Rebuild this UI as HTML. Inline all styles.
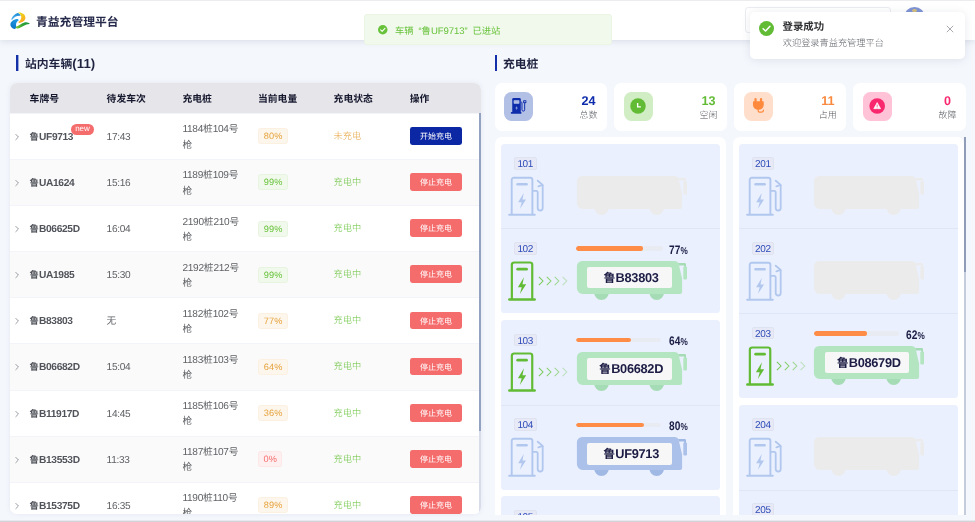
<!DOCTYPE html>
<html lang="zh-CN">
<head>
<meta charset="utf-8">
<title>青益充管理平台</title>
<style>
*{box-sizing:border-box;margin:0;padding:0}
html,body{width:975px;height:522px;overflow:hidden;background:#f4f7fc}
body{text-rendering:geometricPrecision;font-family:"Liberation Sans","Noto Sans CJK SC",sans-serif;color:#606266;font-size:9.7px;-webkit-font-smoothing:antialiased}
#app{filter:blur(0.45px);position:relative;width:975px;height:522px;overflow:hidden;background:#f4f7fc}
.pagebg{position:absolute;left:0;top:0;width:975px;height:522px;background:#f4f7fc}
.topline{position:absolute;left:0;top:0;width:975px;height:1px;background:#ececee}
.botline{position:absolute;left:0;top:520px;width:975px;height:2px;background:linear-gradient(#eef0f5 0,#e3e5ea 40%,#d3d5d9 60%,#cfd1d5 100%)}
.hd{position:absolute;left:0;top:0;width:975px;height:39.5px;background:#fff;box-shadow:0 1px 7px rgba(95,105,135,.2)}
.logo{position:absolute;left:9.6px;top:11.6px}
.title{position:absolute;left:36px;top:14px;font-size:11.8px;line-height:17px;font-weight:700;color:#262a4a;white-space:nowrap}
.sel{position:absolute;left:745px;top:7.4px;width:146px;height:26px;border:1px solid #eaecf1;border-radius:3px;background:#fff}
.avatar{position:absolute;left:903.5px;top:7.4px;width:21px;height:21px;border-radius:50%;background:#7f93d4;overflow:hidden}
.avatar i{position:absolute;left:8px;top:1.8px;width:5px;height:3px;border-radius:50%;background:#d9c07a}
.msg{position:absolute;left:364px;top:13.5px;width:248.4px;height:31.2px;background:#f0f9eb;border:1px solid #eaf6e3;border-radius:3px;color:#67c23a;font-size:9.3px;line-height:32px;white-space:nowrap}
.msg svg{position:absolute;left:13.2px;top:10.6px;width:9.5px;height:9.5px}
.msg>span{position:absolute;left:30px;top:0}
.notif{position:absolute;left:750.2px;top:11.8px;width:215px;height:46.8px;background:#fff;border-radius:5px;box-shadow:0 1px 8px rgba(90,100,130,.14)}
.nico{position:absolute;left:9px;top:9.4px}
.ntitle{position:absolute;left:32.4px;top:8.4px;font-size:10.4px;line-height:15px;font-weight:700;color:#303133;white-space:nowrap}
.nbody{position:absolute;left:32.6px;top:24px;font-size:9.2px;line-height:14px;color:#5e6168;font-weight:300;white-space:nowrap}
.nclose{position:absolute;left:196px;top:13px}
.sec{position:absolute;font-size:11.8px;line-height:16px;font-weight:700;color:#1f2340;white-space:nowrap}
.sec i{position:absolute;left:-9px;top:-1.2px;width:2px;height:16.2px;background:#1330a8;box-shadow:1px 0 0 rgba(19,48,168,.4)}
.sec .n{font-size:13.2px;letter-spacing:0.1px}
.lt .sec{left:25px;top:56px}
.rt .sec{left:503px;top:56px}
.rt .sec i{left:-8px;box-shadow:none}
.tbl{position:absolute;left:10px;top:82.6px;width:471.4px;height:431.5px;border-radius:7px;background:#fff;overflow:hidden;box-shadow:0 0 5px rgba(130,140,170,.13)}
.th{position:absolute;left:0;top:0;width:100%;height:30.4px;background:#e6e5ea;color:#16182e;font-weight:700;font-size:9.8px}
.th .td{line-height:30.4px;top:2px;height:30.4px}
.tb{position:absolute;left:0;top:30.4px;width:100%}
.tr{position:relative;height:46.1px;background:#fff;box-shadow:inset 0 1px 0 #f2f4f9}
.tr.alt{background:#fafafa}
.td{position:absolute;top:0;height:46px;white-space:nowrap}
.c0{left:2.8px;width:10px}
.c1{left:19.6px}.c2{left:96.6px}.c3{left:172.4px}.c4{left:248px}.c5{left:323.6px}.c6{left:399.8px}
.tr .td{line-height:50.6px}
.chev{position:absolute;left:0;top:20px;width:8px;height:8px}
.plate{font-weight:700;color:#50535a;font-size:9.8px;position:relative;top:-1px}
.new{position:absolute;left:41px;top:10.6px;width:23.8px;height:11.2px;text-align:center;border-radius:6px;background:#f56c6c;color:#fff;font-size:8px;line-height:10.4px;font-weight:400}
.tr .c3{color:#606266}
.tag{position:absolute;left:0.4px;top:15.4px;width:29.4px;height:16px;line-height:15px;border:1px solid;border-radius:2.6px;font-size:9.2px;text-align:center;letter-spacing:0.1px}
.t-w{background:#fdf6ec;border-color:#fcf0e0;color:#e6a23c}
.t-s{background:#f0f9eb;border-color:#e7f5e0;color:#67c23a}
.t-e{background:#fef0f0;border-color:#fde7e7;color:#f56c6c;width:23.6px}
.st-w,.st-s{position:relative;top:-2px;font-size:9.2px;font-weight:300}
.st-w{color:#e6a23c}.st-s{color:#67c23a}
.btn{position:absolute;left:0.1px;top:14.2px;width:52px;height:17.8px;line-height:19.6px;border-radius:2.4px;color:#fff;font-size:8px;text-align:center}
.b-p{background:#0b27a3}.b-d{background:#f56c6c}
.sb{position:absolute;left:468.6px;top:30.4px;width:3px;height:318.2px;background:#93a2c0}
.sbt{position:absolute;left:468.6px;top:30.4px;width:3px;height:402px;background:#d7dce8}
.stats{position:absolute;left:495px;top:82.8px;width:471.4px;height:47.8px}
.stat{position:absolute;top:0;width:112.6px;height:47.8px;background:#fff;border-radius:7px}
.stat:nth-child(1){left:0;width:112px}.stat:nth-child(2){left:119px;width:113px}.stat:nth-child(3){left:239px;width:112px}.stat:nth-child(4){left:358px;width:113px}
.stat:nth-child(1) .ic{left:9.3px}.stat:nth-child(2) .ic{left:9.9px}.stat:nth-child(3) .ic{left:9.5px}.stat:nth-child(4) .ic{left:9.9px}
.stat:nth-child(1) .sv{right:9.6px}.stat:nth-child(3) .sv{right:9.2px}
.ic{position:absolute;left:9.3px;top:9.3px;width:29px;height:29px;border-radius:7.5px}
.ic svg{position:absolute;left:5.5px;top:5.3px}
.sv{position:absolute;right:9.6px;top:0;text-align:center}
.sv b{display:block;font-size:12.6px;line-height:14px;margin-top:11.4px;font-weight:700}
.sv span{display:block;font-size:9px;line-height:12px;margin-top:1px;color:#505359;font-weight:300}
.piles{position:absolute;left:495px;top:137.4px;width:471.4px;height:377.4px;overflow:hidden}
.pcol{position:absolute;top:0;height:600px;background:#fff;border-radius:7px;padding:6.2px 6.2px}
.pl{left:0;width:231.4px}
.pr{left:237.6px;width:231px}
.psb{position:absolute;left:468.5px;top:0;width:2.8px;height:377.4px;background:#c5cddd}
.psb i{position:absolute;left:0;top:0;width:100%;height:134.2px;background:#8f9db9}
.grp{width:218.8px;background:#eaf0fe;border-radius:3.6px;margin-bottom:6.5px;overflow:hidden}
.pile{position:relative;height:84.9px;border-top:1px solid #dfe6f5}
.grp .pile:first-child{border-top-color:transparent}
.no{position:absolute;left:12.9px;top:12.7px;width:22.6px;height:12.4px;line-height:13.8px;border:1px solid #dfe3ef;background:#e7eaf6;border-radius:2px;color:#2d4ab8;font-size:10px;letter-spacing:-0.36px;text-indent:-0.3px;text-align:center}
.chg{position:absolute;left:6.8px;top:31.5px}
.arr{position:absolute;left:37px;top:46.6px}
.bus{position:absolute;left:74.6px;top:31.5px;width:112px;height:40px}
.bus svg{position:absolute;left:0;top:0}
.plt{position:absolute;left:11.2px;top:6.1px;width:84.7px;height:21.2px;line-height:22px;background:#f7f7f8;border-radius:2px;text-align:center;text-indent:3.6px;font-weight:700;font-size:12px;color:#1c1c44;white-space:nowrap}
.prog i{display:block;height:100%;background:#ff8d47;border-radius:2.1px}

.q{display:inline-block;width:.86em}
.ql{text-align:right}.qr{text-align:left}
.tr .n{font-size:10.1px;letter-spacing:-0.28px}
.tr b .n{font-size:10.2px;letter-spacing:-0.34px}
.tr b .z{font-size:9.4px}

.tr .c3 .l1,.tr .c3 .l2{position:absolute;left:0;white-space:nowrap;line-height:15px}
.tr .c3 .l1{top:9.4px}.tr .c3 .l2{top:24.6px}
.msg .n{font-size:9.6px;letter-spacing:-0.1px}
.plt .n{font-size:12.8px;letter-spacing:-0.3px}
.prog{position:absolute;left:74.9px;top:17px;width:87px;height:4.4px;border-radius:2.2px;background:#e9ebf3;overflow:hidden}
.pct{position:absolute;right:32.4px;top:12.4px;white-space:nowrap;color:#1c1c44;line-height:16px;font-weight:700;transform:scaleX(.82);transform-origin:right center}
.pct b{font-size:12.4px;font-weight:700;letter-spacing:-0.1px}
.pct small{font-size:10px;font-weight:700;margin-left:0.3px}

</style>
</head>
<body>
<div id="app">
<div class="pagebg"></div>
<header class="hd">
<svg class="logo" viewBox="0 0 41 35" width="20.5" height="17.5">
<defs>
<linearGradient id="lga" x1="0" y1="1" x2="1" y2="0"><stop offset="0" stop-color="#5bbcf0"/><stop offset="1" stop-color="#1180d0"/></linearGradient>
<linearGradient id="lgb" x1="0.6" y1="0" x2="0.3" y2="1"><stop offset="0" stop-color="#1f9be3"/><stop offset="1" stop-color="#0a72c4"/></linearGradient>
<linearGradient id="lgy" x1="0.2" y1="0" x2="0.6" y2="1"><stop offset="0" stop-color="#e3dc1c"/><stop offset="0.45" stop-color="#f6c31c"/><stop offset="1" stop-color="#fba424"/></linearGradient>
<linearGradient id="lgg" x1="0" y1="0" x2="1" y2="0"><stop offset="0" stop-color="#86c92c"/><stop offset="0.5" stop-color="#2fa337"/><stop offset="1" stop-color="#17913d"/></linearGradient>
</defs>
<path d="M2.4 14.6 C4.8 8 10 2.8 15.8 1.8 C18.6 2.8 20.8 5.2 21.4 7.8 C14.5 6.6 8.5 9.8 4 16 Z" fill="url(#lga)"/>
<path d="M15.5 1.2 C24 0 31 5 30.8 12 C30.5 17.5 25 21 18.2 21.8 C17 21 17 20 17.2 19.4 C21 17 23.5 13 22.4 8.5 C21.5 5 19 2.5 15.5 1.2 Z" fill="url(#lgy)"/>
<path d="M13.6 13.8 C15.5 13.8 17 14.8 17.6 16.4 C13.6 19 11.8 22.5 12 26 C12.1 28 12.6 29.5 13.2 30.6 C12.5 32.2 11 33.5 9.4 34 C4 33 0.6 29 0.8 24.4 C1.1 19.5 6.5 14.8 13.6 13.8 Z" fill="url(#lgb)"/>
<path d="M11.2 29.8 C16 27.5 19 25.5 22 23.8 C26 21.5 29.5 20.2 32.5 20.3 C35.5 20.4 38 21.8 39.8 23.8 C37 23.6 35 24.2 33 25.2 C29 27 26 28.6 23 29.8 C20 31.5 18 32.5 15.6 33 C13.5 33 12 31.8 11.2 29.8 Z" fill="url(#lgg)"/>
</svg>
<div class="title">青益充管理平台</div>
<div class="sel"></div>
<div class="avatar"><i></i></div>
</header>

<div class="msg"><svg viewBox="0 0 16 16" width="10" height="10"><circle cx="8" cy="8" r="8" fill="#67c23a"/><path d="M4.4 8.2 L7 10.7 L11.7 5.7" fill="none" stroke="#fff" stroke-width="1.7" stroke-linecap="round" stroke-linejoin="round"/></svg><span><span class="z">车辆</span><span class="q ql">“</span><span class="z">鲁</span><span class="n">UF9713</span><span class="q qr">”</span><span class="z">已进站</span></span></div>

<div class="notif"><svg class="nico" viewBox="0 0 16 16" width="15" height="15"><circle cx="8" cy="8" r="8" fill="#62bb35"/><path d="M4.4 8.2 L7 10.7 L11.7 5.7" fill="none" stroke="#fff" stroke-width="1.6" stroke-linecap="round" stroke-linejoin="round"/></svg>
<div class="ntitle">登录成功</div>
<div class="nbody">欢迎登录青益充管理平台</div>
<svg class="nclose" viewBox="0 0 10 10" width="8" height="8"><path d="M1 1 L9 9 M9 1 L1 9" stroke="#909399" stroke-width="1" fill="none"/></svg>
</div>

<section class="lt">
<h2 class="sec"><i></i>站内车辆<span class="n">(11)</span></h2>
<div class="tbl">
<div class="th">
<div class="td c1">车牌号</div><div class="td c2">待发车次</div><div class="td c3">充电桩</div><div class="td c4">当前电量</div><div class="td c5">充电状态</div><div class="td c6">操作</div>
</div>
<div class="tb">
<div class="tr">
<div class="td c0"><svg class="chev" viewBox="0 0 10 10"><path d="M3.2 1.4 L6.8 5 L3.2 8.6" fill="none" stroke="#8a8d94" stroke-width="1.1"/></svg></div>
<div class="td c1"><b class="plate"><span class="z">鲁</span><span class="n">UF9713</span></b><sup class="new">new</sup></div>
<div class="td c2"><span class="n">17:43</span></div>
<div class="td c3"><div class="l1"><span class="n">1184</span><span class="z">桩</span><span class="n">104</span><span class="z">号</span></div><div class="l2"><span class="z">枪</span></div></div>
<div class="td c4"><span class="tag t-w">80%</span></div>
<div class="td c5"><span class="st-w">未充电</span></div>
<div class="td c6"><span class="btn b-p">开始充电</span></div>
</div><div class="tr alt">
<div class="td c0"><svg class="chev" viewBox="0 0 10 10"><path d="M3.2 1.4 L6.8 5 L3.2 8.6" fill="none" stroke="#8a8d94" stroke-width="1.1"/></svg></div>
<div class="td c1"><b class="plate"><span class="z">鲁</span><span class="n">UA1624</span></b></div>
<div class="td c2"><span class="n">15:16</span></div>
<div class="td c3"><div class="l1"><span class="n">1189</span><span class="z">桩</span><span class="n">109</span><span class="z">号</span></div><div class="l2"><span class="z">枪</span></div></div>
<div class="td c4"><span class="tag t-s">99%</span></div>
<div class="td c5"><span class="st-s">充电中</span></div>
<div class="td c6"><span class="btn b-d">停止充电</span></div>
</div><div class="tr">
<div class="td c0"><svg class="chev" viewBox="0 0 10 10"><path d="M3.2 1.4 L6.8 5 L3.2 8.6" fill="none" stroke="#8a8d94" stroke-width="1.1"/></svg></div>
<div class="td c1"><b class="plate"><span class="z">鲁</span><span class="n">B06625D</span></b></div>
<div class="td c2"><span class="n">16:04</span></div>
<div class="td c3"><div class="l1"><span class="n">2190</span><span class="z">桩</span><span class="n">210</span><span class="z">号</span></div><div class="l2"><span class="z">枪</span></div></div>
<div class="td c4"><span class="tag t-s">99%</span></div>
<div class="td c5"><span class="st-s">充电中</span></div>
<div class="td c6"><span class="btn b-d">停止充电</span></div>
</div><div class="tr alt">
<div class="td c0"><svg class="chev" viewBox="0 0 10 10"><path d="M3.2 1.4 L6.8 5 L3.2 8.6" fill="none" stroke="#8a8d94" stroke-width="1.1"/></svg></div>
<div class="td c1"><b class="plate"><span class="z">鲁</span><span class="n">UA1985</span></b></div>
<div class="td c2"><span class="n">15:30</span></div>
<div class="td c3"><div class="l1"><span class="n">2192</span><span class="z">桩</span><span class="n">212</span><span class="z">号</span></div><div class="l2"><span class="z">枪</span></div></div>
<div class="td c4"><span class="tag t-s">99%</span></div>
<div class="td c5"><span class="st-s">充电中</span></div>
<div class="td c6"><span class="btn b-d">停止充电</span></div>
</div><div class="tr">
<div class="td c0"><svg class="chev" viewBox="0 0 10 10"><path d="M3.2 1.4 L6.8 5 L3.2 8.6" fill="none" stroke="#8a8d94" stroke-width="1.1"/></svg></div>
<div class="td c1"><b class="plate"><span class="z">鲁</span><span class="n">B83803</span></b></div>
<div class="td c2"><span class="z">无</span></div>
<div class="td c3"><div class="l1"><span class="n">1182</span><span class="z">桩</span><span class="n">102</span><span class="z">号</span></div><div class="l2"><span class="z">枪</span></div></div>
<div class="td c4"><span class="tag t-w">77%</span></div>
<div class="td c5"><span class="st-s">充电中</span></div>
<div class="td c6"><span class="btn b-d">停止充电</span></div>
</div><div class="tr alt">
<div class="td c0"><svg class="chev" viewBox="0 0 10 10"><path d="M3.2 1.4 L6.8 5 L3.2 8.6" fill="none" stroke="#8a8d94" stroke-width="1.1"/></svg></div>
<div class="td c1"><b class="plate"><span class="z">鲁</span><span class="n">B06682D</span></b></div>
<div class="td c2"><span class="n">15:04</span></div>
<div class="td c3"><div class="l1"><span class="n">1183</span><span class="z">桩</span><span class="n">103</span><span class="z">号</span></div><div class="l2"><span class="z">枪</span></div></div>
<div class="td c4"><span class="tag t-w">64%</span></div>
<div class="td c5"><span class="st-s">充电中</span></div>
<div class="td c6"><span class="btn b-d">停止充电</span></div>
</div><div class="tr">
<div class="td c0"><svg class="chev" viewBox="0 0 10 10"><path d="M3.2 1.4 L6.8 5 L3.2 8.6" fill="none" stroke="#8a8d94" stroke-width="1.1"/></svg></div>
<div class="td c1"><b class="plate"><span class="z">鲁</span><span class="n">B11917D</span></b></div>
<div class="td c2"><span class="n">14:45</span></div>
<div class="td c3"><div class="l1"><span class="n">1185</span><span class="z">桩</span><span class="n">106</span><span class="z">号</span></div><div class="l2"><span class="z">枪</span></div></div>
<div class="td c4"><span class="tag t-w">36%</span></div>
<div class="td c5"><span class="st-s">充电中</span></div>
<div class="td c6"><span class="btn b-d">停止充电</span></div>
</div><div class="tr alt">
<div class="td c0"><svg class="chev" viewBox="0 0 10 10"><path d="M3.2 1.4 L6.8 5 L3.2 8.6" fill="none" stroke="#8a8d94" stroke-width="1.1"/></svg></div>
<div class="td c1"><b class="plate"><span class="z">鲁</span><span class="n">B13553D</span></b></div>
<div class="td c2"><span class="n">11:33</span></div>
<div class="td c3"><div class="l1"><span class="n">1187</span><span class="z">桩</span><span class="n">107</span><span class="z">号</span></div><div class="l2"><span class="z">枪</span></div></div>
<div class="td c4"><span class="tag t-e">0%</span></div>
<div class="td c5"><span class="st-s">充电中</span></div>
<div class="td c6"><span class="btn b-d">停止充电</span></div>
</div><div class="tr">
<div class="td c0"><svg class="chev" viewBox="0 0 10 10"><path d="M3.2 1.4 L6.8 5 L3.2 8.6" fill="none" stroke="#8a8d94" stroke-width="1.1"/></svg></div>
<div class="td c1"><b class="plate"><span class="z">鲁</span><span class="n">B15375D</span></b></div>
<div class="td c2"><span class="n">16:35</span></div>
<div class="td c3"><div class="l1"><span class="n">1190</span><span class="z">桩</span><span class="n">110</span><span class="z">号</span></div><div class="l2"><span class="z">枪</span></div></div>
<div class="td c4"><span class="tag t-w">89%</span></div>
<div class="td c5"><span class="st-s">充电中</span></div>
<div class="td c6"><span class="btn b-d">停止充电</span></div>
</div><div class="tr alt">
<div class="td c0"><svg class="chev" viewBox="0 0 10 10"><path d="M3.2 1.4 L6.8 5 L3.2 8.6" fill="none" stroke="#8a8d94" stroke-width="1.1"/></svg></div>
<div class="td c1"><b class="plate"><span class="z">鲁</span><span class="n">B08679D</span></b></div>
<div class="td c2"><span class="n">15:50</span></div>
<div class="td c3"><div class="l1"><span class="n">2191</span><span class="z">桩</span><span class="n">203</span><span class="z">号</span></div><div class="l2"><span class="z">枪</span></div></div>
<div class="td c4"><span class="tag t-w">62%</span></div>
<div class="td c5"><span class="st-s">充电中</span></div>
<div class="td c6"><span class="btn b-d">停止充电</span></div>
</div>
</div>
<div class="sbt"></div><div class="sb"></div>
</div>
</section>

<section class="rt">
<h2 class="sec"><i></i>充电桩</h2>
<div class="stats">
<div class="stat"><div class="ic" style="background:#b3c0e6">
<svg viewBox="0 0 20 20" width="18" height="18"><g fill="#0d2bab"><path d="M2.5 2.6 a1.5 1.5 0 0 1 1.5 -1.5 H10.5 a1.5 1.5 0 0 1 1.5 1.5 V17 H2.5 Z"/><rect x="0.9" y="16.7" width="11.9" height="1.8" rx="0.7"/><rect x="14.6" y="3.6" width="3.6" height="3.3" rx="0.9"/></g><rect x="4.1" y="3.5" width="6.3" height="4" rx="0.5" fill="#b7c3e8"/><path d="M4.1 5.4 H10.4" stroke="#8f9fd8" stroke-width="0.5"/><path d="M7.9 10 L5.8 12.6 H7.3 L6.6 14.7 L8.8 11.9 H7.3 Z" fill="#b3c0e6"/><path d="M12 5.6 H12.4 a0.9 0.9 0 0 1 0.9 0.9 V14.2 a1.5 1.5 0 0 0 3 0 V6.8" fill="none" stroke="#0d2bab" stroke-width="1.1"/><rect x="15.7" y="4.6" width="1.5" height="1.2" fill="#b3c0e6"/></svg>
</div><div class="sv"><b style="color:#0d2bab">24</b><span>总数</span></div></div>
<div class="stat"><div class="ic" style="background:#d1edc4">
<svg viewBox="0 0 20 20" width="18" height="18"><circle cx="10" cy="10" r="8.6" fill="#62bb35"/><path d="M9.6 6.6 V11 H13.2" fill="none" stroke="#fff" stroke-width="1.5"/></svg>
</div><div class="sv"><b style="color:#62bb35">13</b><span>空闲</span></div></div>
<div class="stat"><div class="ic" style="background:#ffdfcc">
<svg viewBox="0 0 20 20" width="18" height="18"><g fill="#ff8a3d"><rect x="6" y="1" width="2.5" height="6" rx="1.2"/><rect x="12.1" y="1" width="2.5" height="6" rx="1.2"/><path d="M4.4 5.4 a0.8 0.8 0 0 1 0.8 -0.8 H15.6 a0.8 0.8 0 0 1 0.8 0.8 V9 a6 5.2 0 0 1 -12 0 Z"/></g><path d="M10.2 13.6 V15.2 a1.5 1.5 0 0 0 1.5 1.5 H14.4 a1.6 1.6 0 0 0 1.6 -1.6 V14.6" fill="none" stroke="#ff8a3d" stroke-width="1.4" stroke-linecap="round"/></svg>
</div><div class="sv"><b style="color:#fa8a3f">11</b><span>占用</span></div></div>
<div class="stat"><div class="ic" style="background:#ffc2d6">
<svg viewBox="0 0 20 20" width="18" height="18"><circle cx="10.2" cy="10" r="8.7" fill="#f9286e"/><path d="M10.2 6.2 L14 13 H6.4 Z" fill="#fff" stroke="#fff" stroke-width="0.7" stroke-linejoin="round"/><path d="M10.2 8.4 V11 M10.2 11.8 V12.5" stroke="#f9286e" stroke-width="0.8"/></svg>
</div><div class="sv"><b style="color:#f9286e">0</b><span>故障</span></div></div>
</div>
<div class="piles">
<div class="pcol pl"><div class="grp"><div class="pile"><span class="no">101</span><svg class="chg" viewBox="0 0 36 40" width="36" height="40">
<g fill="none" stroke="#b1c7ee" stroke-width="1.9" stroke-linejoin="round">
<path d="M3.7 38.4 V3.9 a2.1 2.1 0 0 1 2.1 -2.1 H22.3 a2.1 2.1 0 0 1 2.1 2.1 V38.4"/>
<path d="M1.2 38.8 H26.8" stroke-width="2.1" stroke-linecap="round"/>
<path d="M9.5 8.3 H18.6" stroke-width="2.4" stroke-linecap="round"/>
<path d="M24.6 14.9 H28.3 a1.4 1.4 0 0 1 1.4 1.4 V32 a2.5 2.5 0 0 0 5 0 V8.9" stroke-width="1.8"/>
<path d="M29.7 4.7 L34.7 8.9 L30.4 10.4" stroke-width="1.8" stroke-linecap="round"/>
</g>
<path d="M15.7 17 L10.2 26.3 H13.7 L12 32.8 L18 23.5 H14.5 Z" fill="#b1c7ee"/>
</svg><div class="bus"><svg viewBox="0 0 112 40" width="112" height="40">
<path d="M18.1 31.5 a7.4 7.4 0 0 0 14.8 0 Z M73.3 31.5 a7.4 7.4 0 0 0 14.8 0 Z" fill="#ebebeb"/>
<path d="M102 1.9 H108.7 a1.3 1.3 0 0 1 1.3 1.3 V6 H108.2 V4.4 H102.8 Z" fill="#ebebeb"/>
<path d="M0.9 5.3 a5.2 5.2 0 0 1 5.2 -5.2 H98.4 a4.6 4.6 0 0 1 4.4 3.3 L106.1 17.5 V31 a2 2 0 0 1 -2 2 H6.6 a5.7 5.7 0 0 1 -5.7 -5.7 Z" fill="#ebebeb"/>
<rect x="107.3" y="5.4" width="3.7" height="13" rx="1.2" fill="#ebebeb"/>
</svg></div></div><div class="pile"><span class="no">102</span><svg class="chg" viewBox="0 0 36 40" width="36" height="40">
<g fill="none" stroke="#62bb35" stroke-width="2.2" stroke-linejoin="round">
<path d="M3.85 38.2 V3.7 a2.2 2.2 0 0 1 2.2 -2.2 H22.05 a2.2 2.2 0 0 1 2.2 2.2 V38.2"/>
<path d="M1.3 38.5 H26.7" stroke-width="2.4" stroke-linecap="round"/>
<path d="M9.7 8.2 H18.5" stroke-width="2.8" stroke-linecap="round"/>
</g>
<path d="M15.9 16.3 L9.9 26.2 H13.7 L11.9 33.1 L18.2 23.3 H14.5 Z" fill="#62bb35"/>
</svg><svg class="arr" viewBox="0 0 32 10" width="32" height="10">
<g fill="none" stroke="#6cc644" stroke-width="1.05" stroke-linejoin="miter">
<path d="M0.9 0.9 L5 5 L0.9 9.1" opacity="0.9"/>
<path d="M8.8 0.9 L12.9 5 L8.8 9.1" opacity="0.78"/>
<path d="M16.7 0.9 L20.8 5 L16.7 9.1" opacity="0.6"/>
<path d="M24.6 0.9 L28.7 5 L24.6 9.1" opacity="0.36"/>
</g></svg><div class="prog" style="width:87.0px"><i style="width:77%"></i></div><div class="pct"><b>77</b><small>%</small></div><div class="bus"><svg viewBox="0 0 112 40" width="112" height="40">
<path d="M18.1 31.5 a7.4 7.4 0 0 0 14.8 0 Z M73.3 31.5 a7.4 7.4 0 0 0 14.8 0 Z" fill="#a6dcb5"/>
<path d="M102 1.9 H108.7 a1.3 1.3 0 0 1 1.3 1.3 V6 H108.2 V4.4 H102.8 Z" fill="#a6dcb5"/>
<path d="M0.9 5.3 a5.2 5.2 0 0 1 5.2 -5.2 H98.4 a4.6 4.6 0 0 1 4.4 3.3 L106.1 17.5 V31 a2 2 0 0 1 -2 2 H6.6 a5.7 5.7 0 0 1 -5.7 -5.7 Z" fill="#b3e5c1"/>
<rect x="107.3" y="5.4" width="3.7" height="13" rx="1.2" fill="#b3e5c1"/>
</svg><div class="plt"><span class="z">鲁</span><span class="n">B83803</span></div></div></div></div><div class="grp"><div class="pile"><span class="no">103</span><svg class="chg" viewBox="0 0 36 40" width="36" height="40">
<g fill="none" stroke="#62bb35" stroke-width="2.2" stroke-linejoin="round">
<path d="M3.85 38.2 V3.7 a2.2 2.2 0 0 1 2.2 -2.2 H22.05 a2.2 2.2 0 0 1 2.2 2.2 V38.2"/>
<path d="M1.3 38.5 H26.7" stroke-width="2.4" stroke-linecap="round"/>
<path d="M9.7 8.2 H18.5" stroke-width="2.8" stroke-linecap="round"/>
</g>
<path d="M15.9 16.3 L9.9 26.2 H13.7 L11.9 33.1 L18.2 23.3 H14.5 Z" fill="#62bb35"/>
</svg><svg class="arr" viewBox="0 0 32 10" width="32" height="10">
<g fill="none" stroke="#6cc644" stroke-width="1.05" stroke-linejoin="miter">
<path d="M0.9 0.9 L5 5 L0.9 9.1" opacity="0.9"/>
<path d="M8.8 0.9 L12.9 5 L8.8 9.1" opacity="0.78"/>
<path d="M16.7 0.9 L20.8 5 L16.7 9.1" opacity="0.6"/>
<path d="M24.6 0.9 L28.7 5 L24.6 9.1" opacity="0.36"/>
</g></svg><div class="prog" style="width:85.3px"><i style="width:64%"></i></div><div class="pct"><b>64</b><small>%</small></div><div class="bus"><svg viewBox="0 0 112 40" width="112" height="40">
<path d="M18.1 31.5 a7.4 7.4 0 0 0 14.8 0 Z M73.3 31.5 a7.4 7.4 0 0 0 14.8 0 Z" fill="#a6dcb5"/>
<path d="M102 1.9 H108.7 a1.3 1.3 0 0 1 1.3 1.3 V6 H108.2 V4.4 H102.8 Z" fill="#a6dcb5"/>
<path d="M0.9 5.3 a5.2 5.2 0 0 1 5.2 -5.2 H98.4 a4.6 4.6 0 0 1 4.4 3.3 L106.1 17.5 V31 a2 2 0 0 1 -2 2 H6.6 a5.7 5.7 0 0 1 -5.7 -5.7 Z" fill="#b3e5c1"/>
<rect x="107.3" y="5.4" width="3.7" height="13" rx="1.2" fill="#b3e5c1"/>
</svg><div class="plt"><span class="z">鲁</span><span class="n">B06682D</span></div></div></div><div class="pile"><span class="no">104</span><svg class="chg" viewBox="0 0 36 40" width="36" height="40">
<g fill="none" stroke="#b1c7ee" stroke-width="1.9" stroke-linejoin="round">
<path d="M3.7 38.4 V3.9 a2.1 2.1 0 0 1 2.1 -2.1 H22.3 a2.1 2.1 0 0 1 2.1 2.1 V38.4"/>
<path d="M1.2 38.8 H26.8" stroke-width="2.1" stroke-linecap="round"/>
<path d="M9.5 8.3 H18.6" stroke-width="2.4" stroke-linecap="round"/>
<path d="M24.6 14.9 H28.3 a1.4 1.4 0 0 1 1.4 1.4 V32 a2.5 2.5 0 0 0 5 0 V8.9" stroke-width="1.8"/>
<path d="M29.7 4.7 L34.7 8.9 L30.4 10.4" stroke-width="1.8" stroke-linecap="round"/>
</g>
<path d="M15.7 17 L10.2 26.3 H13.7 L12 32.8 L18 23.5 H14.5 Z" fill="#b1c7ee"/>
</svg><div class="prog" style="width:84.8px"><i style="width:80%"></i></div><div class="pct"><b>80</b><small>%</small></div><div class="bus"><svg viewBox="0 0 112 40" width="112" height="40">
<path d="M18.1 31.5 a7.4 7.4 0 0 0 14.8 0 Z M73.3 31.5 a7.4 7.4 0 0 0 14.8 0 Z" fill="#a0b8e4"/>
<path d="M102 1.9 H108.7 a1.3 1.3 0 0 1 1.3 1.3 V6 H108.2 V4.4 H102.8 Z" fill="#a0b8e4"/>
<path d="M0.9 5.3 a5.2 5.2 0 0 1 5.2 -5.2 H98.4 a4.6 4.6 0 0 1 4.4 3.3 L106.1 17.5 V31 a2 2 0 0 1 -2 2 H6.6 a5.7 5.7 0 0 1 -5.7 -5.7 Z" fill="#abc1ea"/>
<rect x="107.3" y="5.4" width="3.7" height="13" rx="1.2" fill="#abc1ea"/>
</svg><div class="plt"><span class="z">鲁</span><span class="n">UF9713</span></div></div></div></div><div class="grp"><div class="pile"><span class="no">105</span><svg class="chg" viewBox="0 0 36 40" width="36" height="40">
<g fill="none" stroke="#b1c7ee" stroke-width="1.9" stroke-linejoin="round">
<path d="M3.7 38.4 V3.9 a2.1 2.1 0 0 1 2.1 -2.1 H22.3 a2.1 2.1 0 0 1 2.1 2.1 V38.4"/>
<path d="M1.2 38.8 H26.8" stroke-width="2.1" stroke-linecap="round"/>
<path d="M9.5 8.3 H18.6" stroke-width="2.4" stroke-linecap="round"/>
<path d="M24.6 14.9 H28.3 a1.4 1.4 0 0 1 1.4 1.4 V32 a2.5 2.5 0 0 0 5 0 V8.9" stroke-width="1.8"/>
<path d="M29.7 4.7 L34.7 8.9 L30.4 10.4" stroke-width="1.8" stroke-linecap="round"/>
</g>
<path d="M15.7 17 L10.2 26.3 H13.7 L12 32.8 L18 23.5 H14.5 Z" fill="#b1c7ee"/>
</svg><div class="bus"><svg viewBox="0 0 112 40" width="112" height="40">
<path d="M18.1 31.5 a7.4 7.4 0 0 0 14.8 0 Z M73.3 31.5 a7.4 7.4 0 0 0 14.8 0 Z" fill="#ebebeb"/>
<path d="M102 1.9 H108.7 a1.3 1.3 0 0 1 1.3 1.3 V6 H108.2 V4.4 H102.8 Z" fill="#ebebeb"/>
<path d="M0.9 5.3 a5.2 5.2 0 0 1 5.2 -5.2 H98.4 a4.6 4.6 0 0 1 4.4 3.3 L106.1 17.5 V31 a2 2 0 0 1 -2 2 H6.6 a5.7 5.7 0 0 1 -5.7 -5.7 Z" fill="#ebebeb"/>
<rect x="107.3" y="5.4" width="3.7" height="13" rx="1.2" fill="#ebebeb"/>
</svg></div></div><div class="pile"><span class="no">106</span><svg class="chg" viewBox="0 0 36 40" width="36" height="40">
<g fill="none" stroke="#62bb35" stroke-width="2.2" stroke-linejoin="round">
<path d="M3.85 38.2 V3.7 a2.2 2.2 0 0 1 2.2 -2.2 H22.05 a2.2 2.2 0 0 1 2.2 2.2 V38.2"/>
<path d="M1.3 38.5 H26.7" stroke-width="2.4" stroke-linecap="round"/>
<path d="M9.7 8.2 H18.5" stroke-width="2.8" stroke-linecap="round"/>
</g>
<path d="M15.9 16.3 L9.9 26.2 H13.7 L11.9 33.1 L18.2 23.3 H14.5 Z" fill="#62bb35"/>
</svg><svg class="arr" viewBox="0 0 32 10" width="32" height="10">
<g fill="none" stroke="#6cc644" stroke-width="1.05" stroke-linejoin="miter">
<path d="M0.9 0.9 L5 5 L0.9 9.1" opacity="0.9"/>
<path d="M8.8 0.9 L12.9 5 L8.8 9.1" opacity="0.78"/>
<path d="M16.7 0.9 L20.8 5 L16.7 9.1" opacity="0.6"/>
<path d="M24.6 0.9 L28.7 5 L24.6 9.1" opacity="0.36"/>
</g></svg><div class="prog" style="width:85.3px"><i style="width:36%"></i></div><div class="pct"><b>36</b><small>%</small></div><div class="bus"><svg viewBox="0 0 112 40" width="112" height="40">
<path d="M18.1 31.5 a7.4 7.4 0 0 0 14.8 0 Z M73.3 31.5 a7.4 7.4 0 0 0 14.8 0 Z" fill="#a6dcb5"/>
<path d="M102 1.9 H108.7 a1.3 1.3 0 0 1 1.3 1.3 V6 H108.2 V4.4 H102.8 Z" fill="#a6dcb5"/>
<path d="M0.9 5.3 a5.2 5.2 0 0 1 5.2 -5.2 H98.4 a4.6 4.6 0 0 1 4.4 3.3 L106.1 17.5 V31 a2 2 0 0 1 -2 2 H6.6 a5.7 5.7 0 0 1 -5.7 -5.7 Z" fill="#b3e5c1"/>
<rect x="107.3" y="5.4" width="3.7" height="13" rx="1.2" fill="#b3e5c1"/>
</svg><div class="plt"><span class="z">鲁</span><span class="n">B11917D</span></div></div></div></div></div>
<div class="pcol pr"><div class="grp"><div class="pile"><span class="no">201</span><svg class="chg" viewBox="0 0 36 40" width="36" height="40">
<g fill="none" stroke="#b1c7ee" stroke-width="1.9" stroke-linejoin="round">
<path d="M3.7 38.4 V3.9 a2.1 2.1 0 0 1 2.1 -2.1 H22.3 a2.1 2.1 0 0 1 2.1 2.1 V38.4"/>
<path d="M1.2 38.8 H26.8" stroke-width="2.1" stroke-linecap="round"/>
<path d="M9.5 8.3 H18.6" stroke-width="2.4" stroke-linecap="round"/>
<path d="M24.6 14.9 H28.3 a1.4 1.4 0 0 1 1.4 1.4 V32 a2.5 2.5 0 0 0 5 0 V8.9" stroke-width="1.8"/>
<path d="M29.7 4.7 L34.7 8.9 L30.4 10.4" stroke-width="1.8" stroke-linecap="round"/>
</g>
<path d="M15.7 17 L10.2 26.3 H13.7 L12 32.8 L18 23.5 H14.5 Z" fill="#b1c7ee"/>
</svg><div class="bus"><svg viewBox="0 0 112 40" width="112" height="40">
<path d="M18.1 31.5 a7.4 7.4 0 0 0 14.8 0 Z M73.3 31.5 a7.4 7.4 0 0 0 14.8 0 Z" fill="#ebebeb"/>
<path d="M102 1.9 H108.7 a1.3 1.3 0 0 1 1.3 1.3 V6 H108.2 V4.4 H102.8 Z" fill="#ebebeb"/>
<path d="M0.9 5.3 a5.2 5.2 0 0 1 5.2 -5.2 H98.4 a4.6 4.6 0 0 1 4.4 3.3 L106.1 17.5 V31 a2 2 0 0 1 -2 2 H6.6 a5.7 5.7 0 0 1 -5.7 -5.7 Z" fill="#ebebeb"/>
<rect x="107.3" y="5.4" width="3.7" height="13" rx="1.2" fill="#ebebeb"/>
</svg></div></div><div class="pile"><span class="no">202</span><svg class="chg" viewBox="0 0 36 40" width="36" height="40">
<g fill="none" stroke="#b1c7ee" stroke-width="1.9" stroke-linejoin="round">
<path d="M3.7 38.4 V3.9 a2.1 2.1 0 0 1 2.1 -2.1 H22.3 a2.1 2.1 0 0 1 2.1 2.1 V38.4"/>
<path d="M1.2 38.8 H26.8" stroke-width="2.1" stroke-linecap="round"/>
<path d="M9.5 8.3 H18.6" stroke-width="2.4" stroke-linecap="round"/>
<path d="M24.6 14.9 H28.3 a1.4 1.4 0 0 1 1.4 1.4 V32 a2.5 2.5 0 0 0 5 0 V8.9" stroke-width="1.8"/>
<path d="M29.7 4.7 L34.7 8.9 L30.4 10.4" stroke-width="1.8" stroke-linecap="round"/>
</g>
<path d="M15.7 17 L10.2 26.3 H13.7 L12 32.8 L18 23.5 H14.5 Z" fill="#b1c7ee"/>
</svg><div class="bus"><svg viewBox="0 0 112 40" width="112" height="40">
<path d="M18.1 31.5 a7.4 7.4 0 0 0 14.8 0 Z M73.3 31.5 a7.4 7.4 0 0 0 14.8 0 Z" fill="#ebebeb"/>
<path d="M102 1.9 H108.7 a1.3 1.3 0 0 1 1.3 1.3 V6 H108.2 V4.4 H102.8 Z" fill="#ebebeb"/>
<path d="M0.9 5.3 a5.2 5.2 0 0 1 5.2 -5.2 H98.4 a4.6 4.6 0 0 1 4.4 3.3 L106.1 17.5 V31 a2 2 0 0 1 -2 2 H6.6 a5.7 5.7 0 0 1 -5.7 -5.7 Z" fill="#ebebeb"/>
<rect x="107.3" y="5.4" width="3.7" height="13" rx="1.2" fill="#ebebeb"/>
</svg></div></div><div class="pile"><span class="no">203</span><svg class="chg" viewBox="0 0 36 40" width="36" height="40">
<g fill="none" stroke="#62bb35" stroke-width="2.2" stroke-linejoin="round">
<path d="M3.85 38.2 V3.7 a2.2 2.2 0 0 1 2.2 -2.2 H22.05 a2.2 2.2 0 0 1 2.2 2.2 V38.2"/>
<path d="M1.3 38.5 H26.7" stroke-width="2.4" stroke-linecap="round"/>
<path d="M9.7 8.2 H18.5" stroke-width="2.8" stroke-linecap="round"/>
</g>
<path d="M15.9 16.3 L9.9 26.2 H13.7 L11.9 33.1 L18.2 23.3 H14.5 Z" fill="#62bb35"/>
</svg><svg class="arr" viewBox="0 0 32 10" width="32" height="10">
<g fill="none" stroke="#6cc644" stroke-width="1.05" stroke-linejoin="miter">
<path d="M0.9 0.9 L5 5 L0.9 9.1" opacity="0.9"/>
<path d="M8.8 0.9 L12.9 5 L8.8 9.1" opacity="0.78"/>
<path d="M16.7 0.9 L20.8 5 L16.7 9.1" opacity="0.6"/>
<path d="M24.6 0.9 L28.7 5 L24.6 9.1" opacity="0.36"/>
</g></svg><div class="prog" style="width:85.3px"><i style="width:62%"></i></div><div class="pct"><b>62</b><small>%</small></div><div class="bus"><svg viewBox="0 0 112 40" width="112" height="40">
<path d="M18.1 31.5 a7.4 7.4 0 0 0 14.8 0 Z M73.3 31.5 a7.4 7.4 0 0 0 14.8 0 Z" fill="#a6dcb5"/>
<path d="M102 1.9 H108.7 a1.3 1.3 0 0 1 1.3 1.3 V6 H108.2 V4.4 H102.8 Z" fill="#a6dcb5"/>
<path d="M0.9 5.3 a5.2 5.2 0 0 1 5.2 -5.2 H98.4 a4.6 4.6 0 0 1 4.4 3.3 L106.1 17.5 V31 a2 2 0 0 1 -2 2 H6.6 a5.7 5.7 0 0 1 -5.7 -5.7 Z" fill="#b3e5c1"/>
<rect x="107.3" y="5.4" width="3.7" height="13" rx="1.2" fill="#b3e5c1"/>
</svg><div class="plt"><span class="z">鲁</span><span class="n">B08679D</span></div></div></div></div><div class="grp"><div class="pile"><span class="no">204</span><svg class="chg" viewBox="0 0 36 40" width="36" height="40">
<g fill="none" stroke="#b1c7ee" stroke-width="1.9" stroke-linejoin="round">
<path d="M3.7 38.4 V3.9 a2.1 2.1 0 0 1 2.1 -2.1 H22.3 a2.1 2.1 0 0 1 2.1 2.1 V38.4"/>
<path d="M1.2 38.8 H26.8" stroke-width="2.1" stroke-linecap="round"/>
<path d="M9.5 8.3 H18.6" stroke-width="2.4" stroke-linecap="round"/>
<path d="M24.6 14.9 H28.3 a1.4 1.4 0 0 1 1.4 1.4 V32 a2.5 2.5 0 0 0 5 0 V8.9" stroke-width="1.8"/>
<path d="M29.7 4.7 L34.7 8.9 L30.4 10.4" stroke-width="1.8" stroke-linecap="round"/>
</g>
<path d="M15.7 17 L10.2 26.3 H13.7 L12 32.8 L18 23.5 H14.5 Z" fill="#b1c7ee"/>
</svg><div class="bus"><svg viewBox="0 0 112 40" width="112" height="40">
<path d="M18.1 31.5 a7.4 7.4 0 0 0 14.8 0 Z M73.3 31.5 a7.4 7.4 0 0 0 14.8 0 Z" fill="#ebebeb"/>
<path d="M102 1.9 H108.7 a1.3 1.3 0 0 1 1.3 1.3 V6 H108.2 V4.4 H102.8 Z" fill="#ebebeb"/>
<path d="M0.9 5.3 a5.2 5.2 0 0 1 5.2 -5.2 H98.4 a4.6 4.6 0 0 1 4.4 3.3 L106.1 17.5 V31 a2 2 0 0 1 -2 2 H6.6 a5.7 5.7 0 0 1 -5.7 -5.7 Z" fill="#ebebeb"/>
<rect x="107.3" y="5.4" width="3.7" height="13" rx="1.2" fill="#ebebeb"/>
</svg></div></div><div class="pile"><span class="no">205</span><svg class="chg" viewBox="0 0 36 40" width="36" height="40">
<g fill="none" stroke="#b1c7ee" stroke-width="1.9" stroke-linejoin="round">
<path d="M3.7 38.4 V3.9 a2.1 2.1 0 0 1 2.1 -2.1 H22.3 a2.1 2.1 0 0 1 2.1 2.1 V38.4"/>
<path d="M1.2 38.8 H26.8" stroke-width="2.1" stroke-linecap="round"/>
<path d="M9.5 8.3 H18.6" stroke-width="2.4" stroke-linecap="round"/>
<path d="M24.6 14.9 H28.3 a1.4 1.4 0 0 1 1.4 1.4 V32 a2.5 2.5 0 0 0 5 0 V8.9" stroke-width="1.8"/>
<path d="M29.7 4.7 L34.7 8.9 L30.4 10.4" stroke-width="1.8" stroke-linecap="round"/>
</g>
<path d="M15.7 17 L10.2 26.3 H13.7 L12 32.8 L18 23.5 H14.5 Z" fill="#b1c7ee"/>
</svg><div class="bus"><svg viewBox="0 0 112 40" width="112" height="40">
<path d="M18.1 31.5 a7.4 7.4 0 0 0 14.8 0 Z M73.3 31.5 a7.4 7.4 0 0 0 14.8 0 Z" fill="#ebebeb"/>
<path d="M102 1.9 H108.7 a1.3 1.3 0 0 1 1.3 1.3 V6 H108.2 V4.4 H102.8 Z" fill="#ebebeb"/>
<path d="M0.9 5.3 a5.2 5.2 0 0 1 5.2 -5.2 H98.4 a4.6 4.6 0 0 1 4.4 3.3 L106.1 17.5 V31 a2 2 0 0 1 -2 2 H6.6 a5.7 5.7 0 0 1 -5.7 -5.7 Z" fill="#ebebeb"/>
<rect x="107.3" y="5.4" width="3.7" height="13" rx="1.2" fill="#ebebeb"/>
</svg></div></div><div class="pile"><span class="no">206</span><svg class="chg" viewBox="0 0 36 40" width="36" height="40">
<g fill="none" stroke="#b1c7ee" stroke-width="1.9" stroke-linejoin="round">
<path d="M3.7 38.4 V3.9 a2.1 2.1 0 0 1 2.1 -2.1 H22.3 a2.1 2.1 0 0 1 2.1 2.1 V38.4"/>
<path d="M1.2 38.8 H26.8" stroke-width="2.1" stroke-linecap="round"/>
<path d="M9.5 8.3 H18.6" stroke-width="2.4" stroke-linecap="round"/>
<path d="M24.6 14.9 H28.3 a1.4 1.4 0 0 1 1.4 1.4 V32 a2.5 2.5 0 0 0 5 0 V8.9" stroke-width="1.8"/>
<path d="M29.7 4.7 L34.7 8.9 L30.4 10.4" stroke-width="1.8" stroke-linecap="round"/>
</g>
<path d="M15.7 17 L10.2 26.3 H13.7 L12 32.8 L18 23.5 H14.5 Z" fill="#b1c7ee"/>
</svg><div class="bus"><svg viewBox="0 0 112 40" width="112" height="40">
<path d="M18.1 31.5 a7.4 7.4 0 0 0 14.8 0 Z M73.3 31.5 a7.4 7.4 0 0 0 14.8 0 Z" fill="#ebebeb"/>
<path d="M102 1.9 H108.7 a1.3 1.3 0 0 1 1.3 1.3 V6 H108.2 V4.4 H102.8 Z" fill="#ebebeb"/>
<path d="M0.9 5.3 a5.2 5.2 0 0 1 5.2 -5.2 H98.4 a4.6 4.6 0 0 1 4.4 3.3 L106.1 17.5 V31 a2 2 0 0 1 -2 2 H6.6 a5.7 5.7 0 0 1 -5.7 -5.7 Z" fill="#ebebeb"/>
<rect x="107.3" y="5.4" width="3.7" height="13" rx="1.2" fill="#ebebeb"/>
</svg></div></div></div></div>
<div class="psb"><i></i></div>
</div>
</section>
<div class="topline"></div>
<div class="botline"></div>
</div>
</body>
</html>
